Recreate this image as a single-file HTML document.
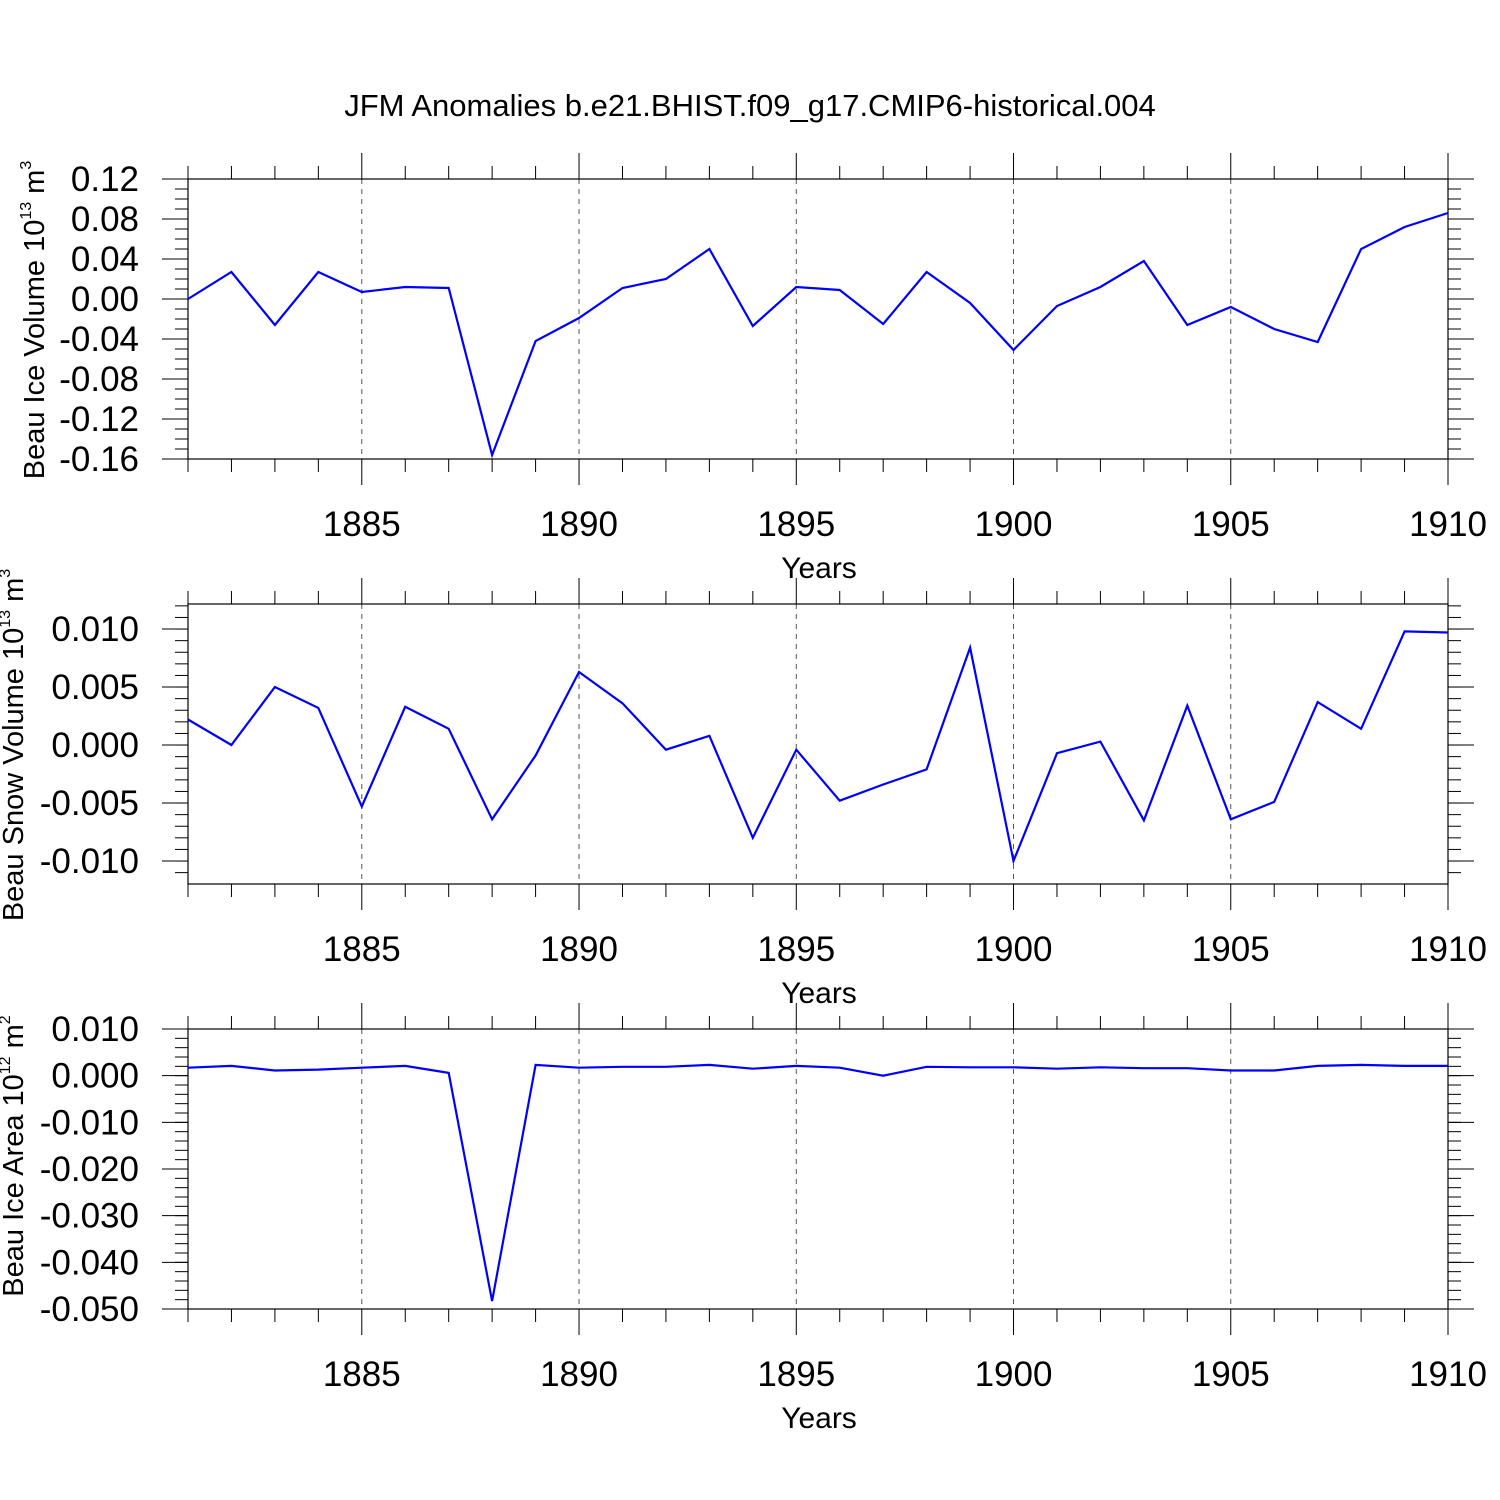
<!DOCTYPE html>
<html><head><meta charset="utf-8"><style>
html,body{margin:0;padding:0;background:#fff}
svg{display:block;font-family:"Liberation Sans",Arial,sans-serif}
</style></head><body>
<svg id="c" width="1500" height="1500" viewBox="0 0 1500 1500">
<rect width="1500" height="1500" fill="#fff"/>
<text x="750" y="116" font-size="31" text-anchor="middle">JFM Anomalies b.e21.BHIST.f09_g17.CMIP6-historical.004</text>
</svg>
<script>
const years = [1881,1882,1883,1884,1885,1886,1887,1888,1889,1890,1891,1892,1893,1894,1895,1896,1897,1898,1899,1900,1901,1902,1903,1904,1905,1906,1907,1908,1909,1910];
const iceVolume = [0.000,0.027,-0.026,0.027,0.007,0.012,0.011,-0.156,-0.042,-0.019,0.011,0.020,0.050,-0.027,0.012,0.009,-0.025,0.027,-0.004,-0.051,-0.007,0.012,0.038,-0.026,-0.008,-0.030,-0.043,0.050,0.072,0.086];
const snowVolume = [0.0022,0.0000,0.0050,0.0032,-0.0053,0.0033,0.0014,-0.0064,-0.0009,0.0063,0.0036,-0.0004,0.0008,-0.0080,-0.0004,-0.0048,-0.0034,-0.0021,0.0084,-0.0100,-0.0007,0.0003,-0.0065,0.0034,-0.0064,-0.0049,0.0037,0.0014,0.0098,0.0097];
const iceArea = [0.0017,0.0021,0.0011,0.0013,0.0017,0.0021,0.0006,-0.0483,0.0023,0.0017,0.0019,0.0019,0.0023,0.0015,0.0021,0.0017,0.0000,0.0019,0.0018,0.0018,0.0015,0.0018,0.0016,0.0016,0.0011,0.0011,0.0021,0.0023,0.0021,0.0021];
const xTickYears = [1885,1890,1895,1900,1905,1910];
const iceVolTicks = ["0.12","0.08","0.04","0.00","-0.04","-0.08","-0.12","-0.16"];
const snowTicks = ["0.010","0.005","0.000","-0.005","-0.010"];
const areaTicks = ["0.010","0.000","-0.010","-0.020","-0.030","-0.040","-0.050"];

const svg = document.getElementById('c');
const NS = 'http://www.w3.org/2000/svg';
function mk(tag, attrs, parent){const e=document.createElementNS(NS,tag);for(const k in attrs)e.setAttribute(k,attrs[k]);(parent||svg).appendChild(e);return e;}
const X0=188, X1=1448, xmin=1881, xmax=1910;
const xs = v => X0 + (v-xmin)/(xmax-xmin)*(X1-X0);

const panels = [
 {name:'ice-volume', top:179, bot:459, ymin:-0.16, ymax:0.12, minor:0.01, data:iceVolume, ticks:iceVolTicks, label:'Beau Ice Volume 10', sup:'13', unit:' m', usup:'3', ly:320, lx:44},
 {name:'snow-volume', top:604, bot:884, ymin:-0.01198, ymax:0.01216, minor:0.001, data:snowVolume, ticks:snowTicks, label:'Beau Snow Volume 10', sup:'13', unit:' m', usup:'3', ly:745, lx:23},
 {name:'ice-area', top:1029, bot:1309, ymin:-0.05, ymax:0.01, minor:0.002, data:iceArea, ticks:areaTicks, label:'Beau Ice Area 10', sup:'12', unit:' m', usup:'2', ly:1156, lx:23}
];

panels.forEach(p=>{
  const g = mk('g',{});
  
  
  const ys = v => p.bot - (v-p.ymin)/(p.ymax-p.ymin)*(p.bot-p.top);
  xTickYears.slice(0,5).forEach(y=>{
    const l=mk('line',{x1:xs(y),x2:xs(y),y1:p.top,y2:p.bot,stroke:'#555','stroke-width':1,'stroke-dasharray':'5,5'},g);
    
    
  });
  for(let y=xmin;y<=xmax;y++){
    const maj = y%5===0;
    const len = maj?26:13;
    mk('line',{x1:xs(y),x2:xs(y),y1:p.top-len,y2:p.top,stroke:'#000','stroke-width':1},g);
    mk('line',{x1:xs(y),x2:xs(y),y1:p.bot,y2:p.bot+len,stroke:'#000','stroke-width':1},g);
  }
  const n0=Math.ceil(p.ymin/p.minor-1e-6), n1=Math.floor(p.ymax/p.minor+1e-6);
  for(let i=n0;i<=n1;i++){
    const yy=ys(i*p.minor);
    mk('line',{x1:X0-13,x2:X0,y1:yy,y2:yy,stroke:'#000','stroke-width':1},g);
    mk('line',{x1:X1,x2:X1+13,y1:yy,y2:yy,stroke:'#000','stroke-width':1},g);
  }
  p.ticks.forEach(t=>{
    const yy=ys(parseFloat(t));
    mk('line',{x1:X0-26,x2:X0,y1:yy,y2:yy,stroke:'#000','stroke-width':1},g);
    mk('line',{x1:X1,x2:X1+26,y1:yy,y2:yy,stroke:'#000','stroke-width':1},g);
    const tx=mk('text',{x:139,y:yy+12,'font-size':35,'text-anchor':'end'},g);
    tx.textContent=t;
    
    
  });
  const fr=mk('rect',{x:X0,y:p.top,width:X1-X0,height:p.bot-p.top,fill:'none',stroke:'#000','stroke-width':1.2},g);
  
  
  xTickYears.forEach(y=>{
    const tx=mk('text',{x:xs(y),y:p.bot+77,'font-size':35,'text-anchor':'middle'},g);
    tx.textContent=y;
    
    
  });
  const xt=mk('text',{x:819,y:p.bot+119,'font-size':30,'text-anchor':'middle'},g);
  xt.textContent='Years';
  
  
  const yt=mk('text',{x:0,y:0,'font-size':29,'text-anchor':'middle',transform:`translate(${p.lx},${p.ly}) rotate(-90)`},g);
  
  
  const a=mk('tspan',{},yt); a.textContent=p.label;
  const b=mk('tspan',{'font-size':16,dy:-13},yt); b.textContent=p.sup;
  const c=mk('tspan',{dy:13},yt); c.textContent=p.unit;
  const d=mk('tspan',{'font-size':16,dy:-13},yt); d.textContent=p.usup;
  const pts=p.data.map((v,i)=>xs(years[i]).toFixed(1)+','+ys(v).toFixed(1)).join(' ');
  const pl=mk('polyline',{points:pts,fill:'none',stroke:'#0000ff','stroke-width':2.2,'stroke-linejoin':'miter'},g);
  
  
});
</script>
</body></html>
